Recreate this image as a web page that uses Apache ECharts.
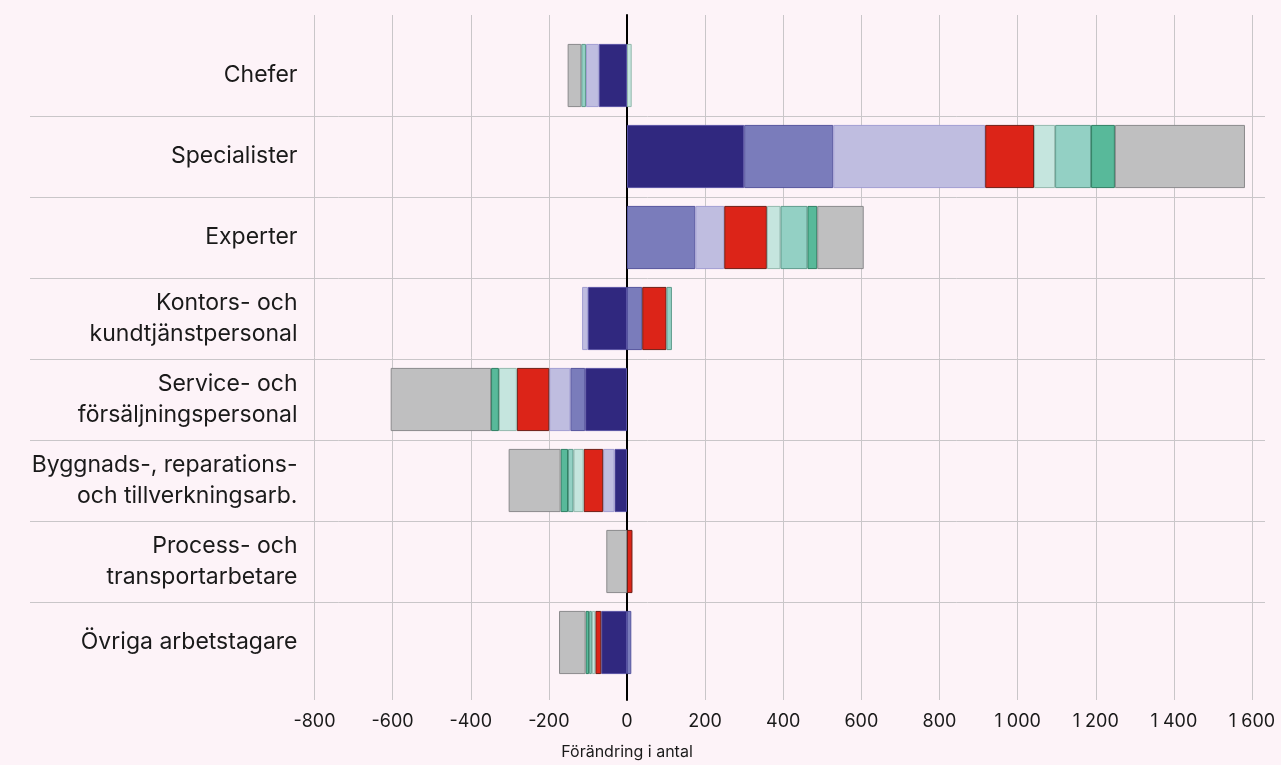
<!DOCTYPE html>
<html>
<head>
<meta charset="utf-8">
<script src="https://cdn.jsdelivr.net/npm/echarts@6/dist/echarts.min.js"></script>
<style>
html,body{margin:0;padding:0;background:#fdf3f8;}
#c{width:1281px;height:765px;}
</style>
</head>
<body>
<div id="c"></div>
<script>
// ---- data ----
const categories = ['Chefer','Specialister','Experter','Kontors- och\nkundtjänstpersonal','Service- och\nförsäljningspersonal','Byggnads-, reparations-\noch tillverkningsarb.','Process- och\ntransportarbetare','Övriga arbetstagare'];
const navy      = [-72, 300,   0, -100, -107, -32,   0, -66];
const purple    = [  0, 228, 175,   39,  -38,   0,   0,  11];
const lavender  = [-33, 389,  74,  -15,  -54, -29,   0,   0];
const red       = [  0, 125, 109,   62,  -83, -50,  14, -15];
const lightMint = [ 12,  54,  35,    0,  -46, -26,   0,  -9];
const mint      = [-12,  92,  69,   14,    0, -14,   0,  -7];
const green     = [  0,  61,  25,    0,  -20, -19,   0,  -9];
const gray      = [-35, 333, 119,    0, -257,-133, -53, -68];
const xTicks = {min: -800, max: 1600, interval: 200};
const axisName = 'Förändring i antal';

const seriesDefs = [
  {name:'s1', data: navy,      color:'#30287f', border:'#5852a3'},
  {name:'s2', data: purple,    color:'#7a7cbb', border:'#55549e'},
  {name:'s3', data: lavender,  color:'#bfbde0', border:'#a19ed2'},
  {name:'s4', data: red,       color:'#dc2418', border:'#6e1e16'},
  {name:'s5', data: lightMint, color:'#c5e5de', border:'#94b9ae'},
  {name:'s6', data: mint,      color:'#93d0c4', border:'#5f9c8d'},
  {name:'s7', data: green,     color:'#58b99a', border:'#2f7f63'},
  {name:'s8', data: gray,      color:'#bfbfc0', border:'#8a8a8c'}
];

const FONT = 'Inter, "Liberation Sans", Arial, sans-serif';
const fmt = v => String(v).replace(/\B(?=(\d{3})+(?!\d))/g, ' ');

const chart = echarts.init(document.getElementById('c'), null, {renderer:'canvas'});
const option = {
  backgroundColor: '#fdf3f8',
  animation: false,
  textStyle: {fontFamily: FONT},
  grid: [
    {left: 314.5, right: 29, top: 15, bottom: 65},   // ticks + vertical grid + zero line
    {left: 314.5, right: 29, top: 35, bottom: 82},   // bars
    {left: 30, right: 16, top: 35, bottom: 82}       // row separators
  ],
  xAxis: [
    {gridIndex:0, type:'value', min:xTicks.min, max:xTicks.max, interval:xTicks.interval,
     axisLine:{show:false}, axisTick:{show:false},
     splitLine:{show:true, lineStyle:{color:'#c9c6c9', width:1}},
     axisLabel:{formatter: fmt, color:'#1a1a1a', fontSize:18, margin:13, fontFamily: FONT}},
    {gridIndex:1, type:'value', min:xTicks.min, max:xTicks.max, interval:xTicks.interval, show:false},
    {gridIndex:2, type:'value', min:0, max:1, show:false}
  ],
  yAxis: [
    {gridIndex:0, type:'value', min:0, max:1, axisLabel:{show:false}, axisTick:{show:false}, splitLine:{show:false},
     axisLine:{show:true, onZero:true, lineStyle:{color:'#000', width:2}}},
    {gridIndex:1, type:'category', data: categories, inverse:true,
     axisLine:{show:false}, axisTick:{show:false}, splitLine:{show:false},
     axisLabel:{color:'#1a1a1a', fontSize:23, lineHeight:31, margin:17, align:'right', fontFamily: FONT}},
    {gridIndex:2, type:'value', min:0, max:categories.length, interval:1,
     axisLine:{show:false}, axisTick:{show:false}, axisLabel:{show:false},
     splitLine:{show:true, showMinLine:false, showMaxLine:false, lineStyle:{color:'#c9c6c9', width:1}}}
  ],
  series: seriesDefs.map(s => ({
    type:'bar', name:s.name, stack:'total', xAxisIndex:1, yAxisIndex:1,
    barWidth:'78%',
    data: s.data.map(v => v === 0 ? '-' : v),
    itemStyle:{color:s.color, borderColor:s.border, borderWidth:1}
  }))
};
chart.setOption(option);
const zx = chart.convertToPixel({xAxisIndex:0}, 0);
chart.setOption({
  graphic: [{type:'text', x: zx, y: 752, style:{text: axisName, fill:'#1a1a1a', font: '16px ' + FONT, textAlign:'center', textVerticalAlign:'middle'}}]
});
</script>
</body>
</html>
